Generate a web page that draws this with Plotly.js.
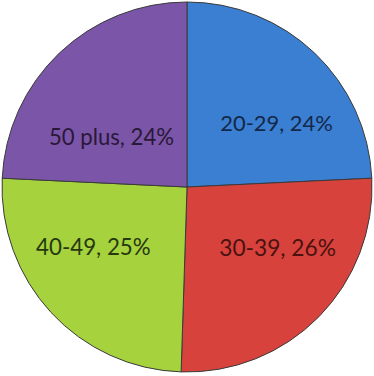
<!DOCTYPE html>
<html><head><meta charset="utf-8">
<script src="https://cdn.plot.ly/plotly-3.0.1.min.js"></script>
<style>html,body{margin:0;padding:0;background:#fff;}</style>
</head><body>
<div id="chart" style="width:374px;height:376px;"></div>
<script>
const labels = ["20-29", "30-39", "40-49", "50 plus"];
const values = [24, 26, 25, 24];
const sliceColors = ["#3a7fd2", "#d8423c", "#a6d23e", "#7b55a8"];
const textColors = ["#14284a", "#4a1210", "#263810", "#2a1838"];

const NB = "\u00a0";
const pad = n => NB.repeat(n);
const core = "%{label}, %{value}%";
const templates = [
  NB + "<br>" + pad(5) + core,
  pad(5) + core + "<br>" + NB,
  core + pad(5) + "<br>" + NB,
  NB + "<br>" + NB + "<br>" + core
];

Plotly.newPlot("chart", [{
  type: "pie",
  labels: labels,
  values: values,
  sort: false,
  direction: "clockwise",
  rotation: 0,
  marker: {colors: sliceColors, line: {color: "#3a3a3a", width: 1}},
  texttemplate: templates,
  textposition: "inside",
  insidetextorientation: "horizontal",
  textfont: {family: "Lato, 'Open Sans', sans-serif", size: 23, color: textColors},
  hoverinfo: "none",
  showlegend: false
}], {
  width: 374, height: 376,
  margin: {l: 2, r: 2, t: 2, b: 4},
  paper_bgcolor: "#ffffff",
  showlegend: false
}, {displayModeBar: false, staticPlot: true});
</script>
</body></html>
